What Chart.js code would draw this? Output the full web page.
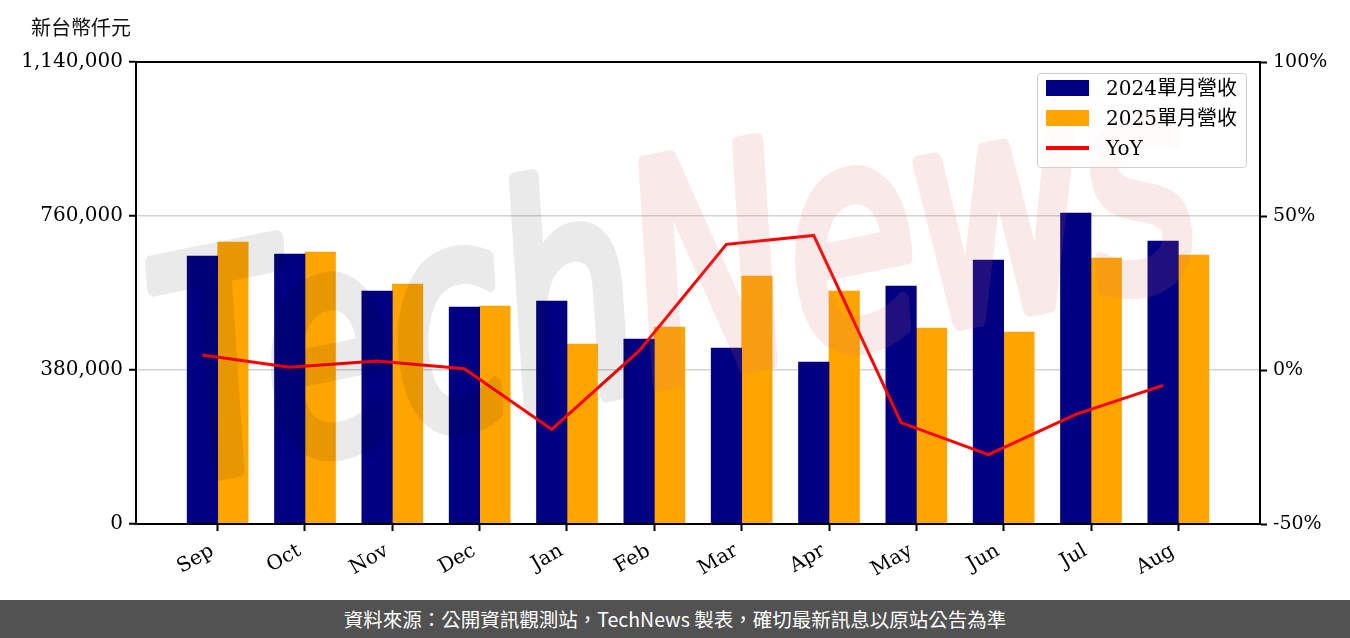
<!DOCTYPE html>
<html lang="zh-Hant-TW">
<head>
<meta charset="utf-8">
<script src="https://cdn.jsdelivr.net/npm/chart.js@4.4.1/dist/chart.umd.min.js"></script>
<style>
  html, body { margin: 0; padding: 0; background: #fff; }
  #wrap { position: relative; width: 1350px; height: 638px; overflow: hidden; }
  #box { position: absolute; left: 0; top: 0; width: 1350px; height: 600px; }
  #unit { position: absolute; left: 31px; top: 12px; font: 20px "Noto Sans CJK TC", sans-serif; color: #111; }
  #legend { position: absolute; left: 1037px; top: 73px; width: 208px; height: 93px; border: 1px solid #d0d0d0; border-radius: 4px; background: rgba(255,255,255,0.8); }
  .item { position: absolute; left: 0; width: 208px; height: 30px; font: 20px "DejaVu Serif", "Noto Sans CJK TC", serif; color: #000; }
  .sw { position: absolute; left: 8px; width: 43px; }
  .lbl { position: absolute; left: 68px; top: 0; height: 30px; line-height: 30px; white-space: nowrap; }
  #footer { position: absolute; left: 0; top: 600px; width: 1350px; height: 38px; background: #525252; color: #fff; font: 19.5px "Noto Sans CJK TC", sans-serif; text-align: center; line-height: 38px; }
</style>
</head>
<body>
<div id="wrap">
  <div id="box"><canvas id="revChart" width="1350" height="600"></canvas></div>
  <div id="unit">新台幣仟元</div>
  <div id="legend">
    <div class="item" style="top:-1px"><div class="sw" style="top:7px;height:16px;background:#000080"></div><div class="lbl">2024單月營收</div></div>
    <div class="item" style="top:29px"><div class="sw" style="top:7px;height:16px;background:#ffa500"></div><div class="lbl">2025單月營收</div></div>
    <div class="item" style="top:59px"><div class="sw" style="top:13px;height:3.5px;background:#ff0000"></div><div class="lbl">YoY</div></div>
  </div>
  <div id="footer" lang="zh-TW">資料來源：公開資訊觀測站，TechNews 製表，確切最新訊息以原站公告為準</div>
</div>
<script>
// months on the x axis
const months = ['Sep', 'Oct', 'Nov', 'Dec', 'Jan', 'Feb', 'Mar', 'Apr', 'May', 'Jun', 'Jul', 'Aug'];
// monthly revenue, thousand NTD
const rev2024 = [661300, 666200, 574900, 535400, 550300, 456500, 434300, 399700, 587300, 651400, 767400, 698300];
const rev2025 = [695800, 671200, 592200, 537900, 444200, 486100, 611900, 574900, 483600, 473800, 656400, 663800];
// year over year, percent
const yoy = [4.9, 0.9, 2.9, 0.4, -19.3, 6.2, 40.8, 43.7, -17.1, -27.5, -14.4, -5.0];
const leftTicks = [0, 380000, 760000, 1140000];
const rightTicks = [-50, 0, 50, 100];

const tickFont = { family: '"DejaVu Serif", serif', size: 20 };

// one word of the watermark on its own offscreen canvas (opaque, faded when pasted)
function wordLayer(color, which) {
  const c = document.createElement('canvas');
  c.width = 1350; c.height = 600;
  const g = c.getContext('2d');
  g.translate(680, 300);
  g.rotate(-0.2);
  g.scale(0.7, 1);
  g.font = 'italic 300px "DejaVu Sans", sans-serif';
  g.textBaseline = 'middle';
  g.lineJoin = 'round';
  g.lineWidth = 16;
  const w1 = g.measureText('Tech').width;
  const w2 = g.measureText('News').width;
  const x = -(w1 + w2) / 2 + (which === 'News' ? w1 : 0);
  g.fillStyle = g.strokeStyle = color;
  g.fillText(which, x, 0);
  g.strokeText(which, x, 0);
  return c;
}
const techLayer = wordLayer('#141414', 'Tech');
const newsLayer = wordLayer('#d76e6e', 'News');

// matplotlib style box around the plot + watermark
const frame = {
  id: 'frame',
  afterDatasetsDraw(chart) {
    const { ctx, chartArea: a } = chart;
    ctx.save();
    ctx.globalAlpha = 0.085;
    ctx.drawImage(techLayer, 0, 0);
    ctx.globalAlpha = 0.15;
    ctx.drawImage(newsLayer, 0, 0);
    ctx.restore();

    ctx.save();
    ctx.strokeStyle = '#000';
    ctx.lineWidth = 2;
    ctx.strokeRect(a.left, a.top, a.right - a.left, a.bottom - a.top);
    ctx.restore();
  }
};

const ctx = document.getElementById('revChart').getContext('2d');
new Chart(ctx, {
  type: 'bar',
  data: {
    datasets: [
      {
        type: 'line',
        label: 'YoY',
        data: yoy.map((v, i) => ({ x: i - 0.175, y: v })),
        yAxisID: 'y1',
        borderColor: '#ff0000',
        borderWidth: 3,
        pointRadius: 0,
        tension: 0,
        order: 0
      },
      {
        label: '2024單月營收',
        data: rev2024.map((v, i) => ({ x: i, y: v })),
        backgroundColor: '#000080',
        barThickness: 30.5,
        order: 1
      },
      {
        label: '2025單月營收',
        data: rev2025.map((v, i) => ({ x: i, y: v })),
        backgroundColor: '#ffa500',
        barThickness: 30.5,
        order: 1
      }
    ]
  },
  options: {
    responsive: false,
    animation: false,
    layout: { padding: { top: 62, left: 0, right: 0, bottom: 0 } },
    plugins: { legend: { display: false }, tooltip: { enabled: false } },
    scales: {
      x: {
        type: 'linear',
        min: -0.935,
        max: 11.935,
        offset: false,
        afterBuildTicks: s => { s.ticks = months.map((_, i) => ({ value: i })); },
        afterFit: s => { s.height = 76; },
        ticks: {
          callback: (v) => months[v] + ' ',
          minRotation: 30,
          maxRotation: 30,
          autoSkip: false,
          color: '#000',
          font: tickFont,
          padding: 5
        },
        grid: { drawOnChartArea: false, offset: false, tickLength: 7, tickColor: '#000', tickWidth: 2 },
        border: { color: '#000', width: 2 }
      },
      y: {
        position: 'left',
        min: 0,
        max: 1140000,
        afterBuildTicks: s => { s.ticks = leftTicks.map(v => ({ value: v })); },
        afterFit: s => { s.width = 136; },
        ticks: {
          callback: v => v.toLocaleString('en-US'),
          color: '#000',
          font: tickFont,
          padding: 6
        },
        grid: {
          color: c => (c.tick && (c.tick.value === 380000 || c.tick.value === 760000)) ? '#d3d3d3' : 'rgba(0,0,0,0)',
          lineWidth: 1.5,
          tickLength: 7,
          tickColor: '#000',
          tickWidth: 2
        },
        border: { color: '#000', width: 2 }
      },
      y1: {
        position: 'right',
        min: -50,
        max: 100,
        afterBuildTicks: s => { s.ticks = rightTicks.map(v => ({ value: v })); },
        afterFit: s => { s.width = 90; },
        ticks: {
          callback: v => v + '%',
          color: '#000',
          font: { family: '"DejaVu Serif", serif', size: 19 },
          padding: 6
        },
        grid: { drawOnChartArea: false, tickLength: 7, tickColor: '#000', tickWidth: 2 },
        border: { color: '#000', width: 2 }
      }
    }
  },
  plugins: [frame]
});
</script>
</body>
</html>
